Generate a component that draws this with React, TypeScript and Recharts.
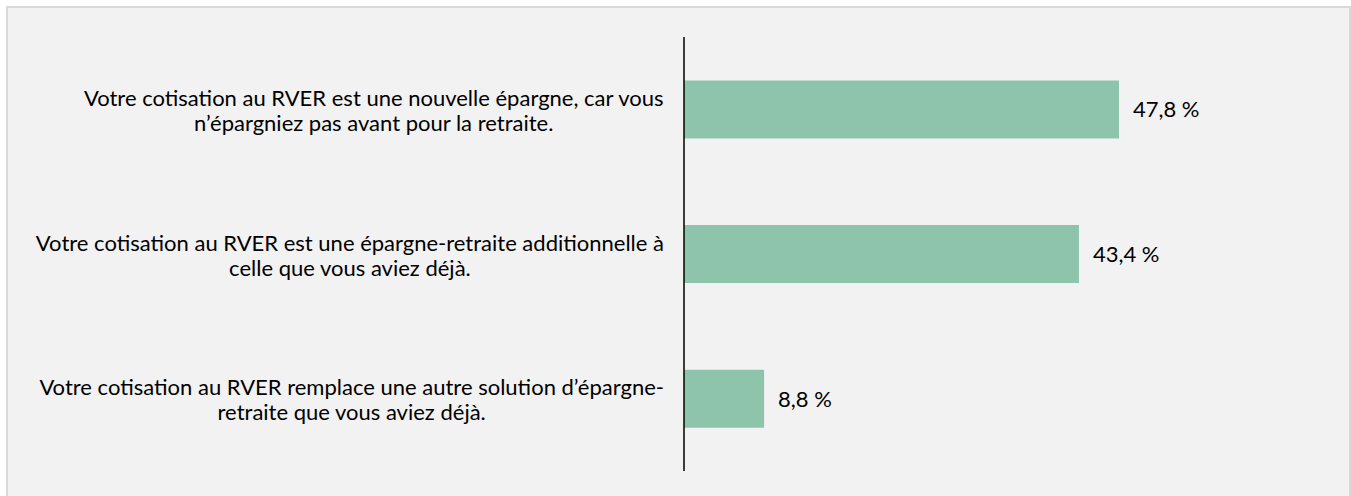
import { BarChart, Bar, XAxis, YAxis, LabelList } from "recharts";

const categories = [
  "Votre cotisation au RVER est une nouvelle épargne, car vous\nn’épargniez pas avant pour la retraite.",
  "Votre cotisation au RVER est une épargne-retraite additionnelle à\ncelle que vous aviez déjà.",
  "Votre cotisation au RVER remplace une autre solution d’épargne-\nretraite que vous aviez déjà.",
];
const shares = [47.8, 43.4, 8.8];

const data = categories.map((label, i) => ({ label, value: shares[i] }));

const FONT = "Lato, 'Open Sans', sans-serif";
const FS = 22;

let ctx: CanvasRenderingContext2D | null = null;
function textWidth(s: string) {
  if (!ctx) ctx = document.createElement("canvas").getContext("2d");
  if (!ctx) return s.length * FS * 0.5;
  ctx.font = `${FS}px Lato`;
  return ctx.measureText(s).width;
}

function CategoryTick(props: any) {
  const { x, y, payload } = props;
  const lines: string[] = String(payload.value).split("\n");
  const widest = Math.max(...lines.map(textWidth));
  const cx = x - 12 - widest / 2;
  const lh = 25;
  const top = y - ((lines.length - 1) * lh) / 2;
  return (
    <text
      x={cx}
      y={top}
      textAnchor="middle"
      dominantBaseline="central"
      fontFamily={FONT}
      fontSize={FS}
      fill="#000"
    >
      {lines.map((l, i) => (
        <tspan key={i} x={cx} y={top + i * lh}>
          {l}
        </tspan>
      ))}
    </text>
  );
}

const pct = (v: any) => `${Number(v).toFixed(1).replace(".", ",")} %`;

export default function App() {
  return (
    <div
      style={{
        position: "fixed",
        left: 0,
        top: 0,
        width: 1351,
        height: 496,
        background: "#fff",
        overflow: "hidden",
      }}
    >
      <div
        style={{
          position: "absolute",
          left: 6,
          top: 6,
          width: 1341,
          height: 500,
          background: "#f2f2f2",
          border: "2px solid #d9d9d9",
        }}
      />
      <div style={{ position: "absolute", left: 0, top: 0 }}>
        <BarChart
          width={1351}
          height={496}
          data={data}
          layout="vertical"
          margin={{ top: 37, right: 121, bottom: 25, left: 0 }}
          barCategoryGap="30%"
        >
          <XAxis type="number" domain={[0, 60]} hide />
          <YAxis
            type="category"
            dataKey="label"
            width={684}
            axisLine={{ stroke: "#000", strokeWidth: 1.5 }}
            tickLine={false}
            tick={<CategoryTick />}
            interval={0}
          />
          <Bar dataKey="value" fill="#8dc4ab" isAnimationActive={false}>
            <LabelList
              dataKey="value"
              position="right"
              offset={14}
              formatter={pct}
              fill="#000"
              fontSize={FS}
              fontFamily={FONT}
            />
          </Bar>
        </BarChart>
      </div>
    </div>
  );
}
